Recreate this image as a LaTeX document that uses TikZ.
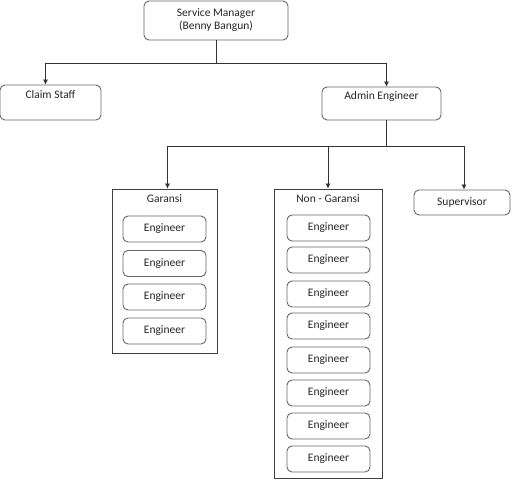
\documentclass[tikz,border=0pt]{standalone}
\usepackage{fontspec}
\setmainfont{Carlito}
\usetikzlibrary{positioning}
\usetikzlibrary{calc}
\usetikzlibrary{arrows.meta}

\begin{document}
\begin{tikzpicture}[x=1pt, y=-1pt,
                font=\fontsize{11.5}{13}\selectfont, text=black!85,
                roundednode/.style={rectangle, rounded corners=5pt, draw=black!60, fill=white, line width=0.9pt, inner sep=2pt},
                topnode/.style={roundednode, text height=7pt, text depth=15pt},
                groupnode/.style={rectangle, draw=black!75, line width=0.8pt},
                engineernode/.style={roundednode, minimum width=83, minimum height=26},
                arr/.style={-{Latex[length=5pt, width=5pt]}, draw=black!80, line width=0.7pt},
                ]
                \useasboundingbox (0,0) rectangle (517,491);

                \node[roundednode, align=center, minimum width=144, minimum height=39] (sm) at (216,20.5) {Service Manager\\(Benny Bangun)};
                \node[topnode, minimum width=101, minimum height=35] (claim) at (50.5,102.5) {Claim Staff};
                \node[topnode, minimum width=119, minimum height=33] (admin) at (381.5,103.5) {Admin Engineer};

                \node[groupnode, minimum width=105, minimum height=164,
                      label={[anchor=north, yshift=-2]north:Garansi}] (garansi) at (164.5,271) {};
                \node[groupnode, minimum width=108, minimum height=289,
                      label={[anchor=north, yshift=-2]north:Non - Garansi}] (nongaransi) at (328,333.5) {};
                \node[roundednode, minimum width=96, minimum height=25] (supervisor) at (462,202.5) {Supervisor};

                % engineers
                \foreach \y [count=\i] in {229,263.5,297,331}
                    \node[engineernode] (g\i) at (164.5,\y) {Engineer};
                \foreach \y [count=\i] in {228,260,294,326,360,393,426,459}
                    \node[engineernode] (n\i) at (328.5,\y) {Engineer};

                % connectors
                \coordinate (top) at (sm.south |- 0,63);
                \coordinate (mid) at ([xshift=5]admin.south |- 0,146);
                \draw[arr, -] (sm.south) -- (top);
                \draw[arr] (top) -| ([xshift=-5]claim.north);
                \draw[arr] (top) -| ([xshift=5]admin.north);
                \draw[arr, -] ([xshift=5]admin.south) -- (mid);
                \draw[arr] (mid) -| ([xshift=3]garansi.north);
                \draw[arr] (mid) -| (nongaransi.north);
                \draw[arr] (mid) -| ([xshift=2]supervisor.north);
            \end{tikzpicture}
\end{document}
